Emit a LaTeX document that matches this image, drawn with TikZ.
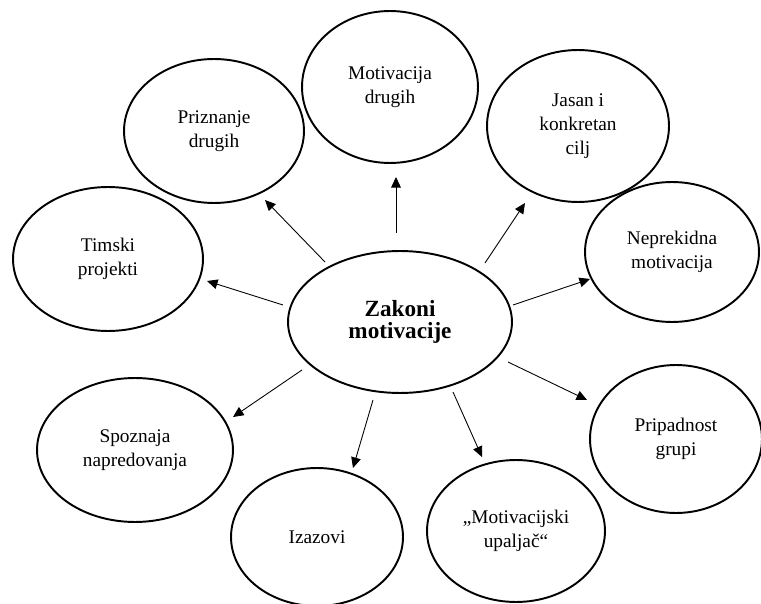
\documentclass[tikz,border=0pt]{standalone}
\usepackage{fontspec}
\setmainfont{Liberation Serif}
\usetikzlibrary{shapes.geometric,arrows.meta}

\begin{document}
\begin{tikzpicture}[x=0.02cm,y=-0.02cm,font=\fontsize{11}{13.6}\selectfont]
      \tikzstyle{goal node}=[ellipse,draw,line width=1.1pt,inner sep=0,align=center]
      \tikzstyle{law arrow}=[-{Triangle[length=6pt,width=5.5pt]},line width=0.5pt]
      \useasboundingbox (0,0) rectangle (761,604);

      % central node
      \node(zak)[goal node,minimum width=4.48cm,minimum height=2.84cm,
                 font=\fontsize{13.2}{12.6}\selectfont\bfseries] at (400,322) {Zakoni\\motivacije};

      % outer nodes
      \node(mot)[goal node,minimum width=3.52cm,minimum height=3.04cm] at (390,87) {Motivacija\\drugih};
      \node(priz)[goal node,minimum width=3.6cm,minimum height=2.88cm] at (214,131) {Priznanje\\drugih};
      \node(jas)[goal node,minimum width=3.64cm,minimum height=3.04cm] at (578,126) {Jasan i\\konkretan\\cilj};
      \node(tim)[goal node,minimum width=3.8cm,minimum height=2.88cm] at (108,259) {Timski\\projekti};
      \node(nep)[goal node,minimum width=3.48cm,minimum height=2.8cm] at (672,252) {Neprekidna\\motivacija};
      \node(spo)[goal node,minimum width=3.92cm,minimum height=2.88cm] at (135,450) {Spoznaja\\napredovanja};
      \node(iza)[goal node,minimum width=3.44cm,minimum height=2.76cm] at (317,537) {Izazovi};
      \node(upa)[goal node,minimum width=3.56cm,minimum height=2.84cm] at (516,531) {„Motivacijski\\upaljač“};
      \node(pri)[goal node,minimum width=3.44cm,minimum height=2.96cm] at (676,439) {Pripadnost\\grupi};

      % arrow ends
      \coordinate (s-mot) at (396,233);  \coordinate (t-mot) at (396,177);
      \coordinate (s-jas) at (485,263);  \coordinate (t-jas) at (525,203);
      \coordinate (s-nep) at (513,305);  \coordinate (t-nep) at (590,279);
      \coordinate (s-priz) at (325,262); \coordinate (t-priz) at (265,200);
      \coordinate (s-tim) at (283,305);  \coordinate (t-tim) at (207,281);
      \coordinate (s-spo) at (302,370);  \coordinate (t-spo) at (233,417);
      \coordinate (s-iza) at (373,400);  \coordinate (t-iza) at (353,468);
      \coordinate (s-upa) at (453,392);  \coordinate (t-upa) at (482,457);
      \coordinate (s-pri) at (508,362);  \coordinate (t-pri) at (587,400);

      \foreach \n in {mot,jas,nep,priz,tim,spo,iza,upa,pri}
          \draw[law arrow] (s-\n) -- (t-\n);
\end{tikzpicture}
\end{document}
